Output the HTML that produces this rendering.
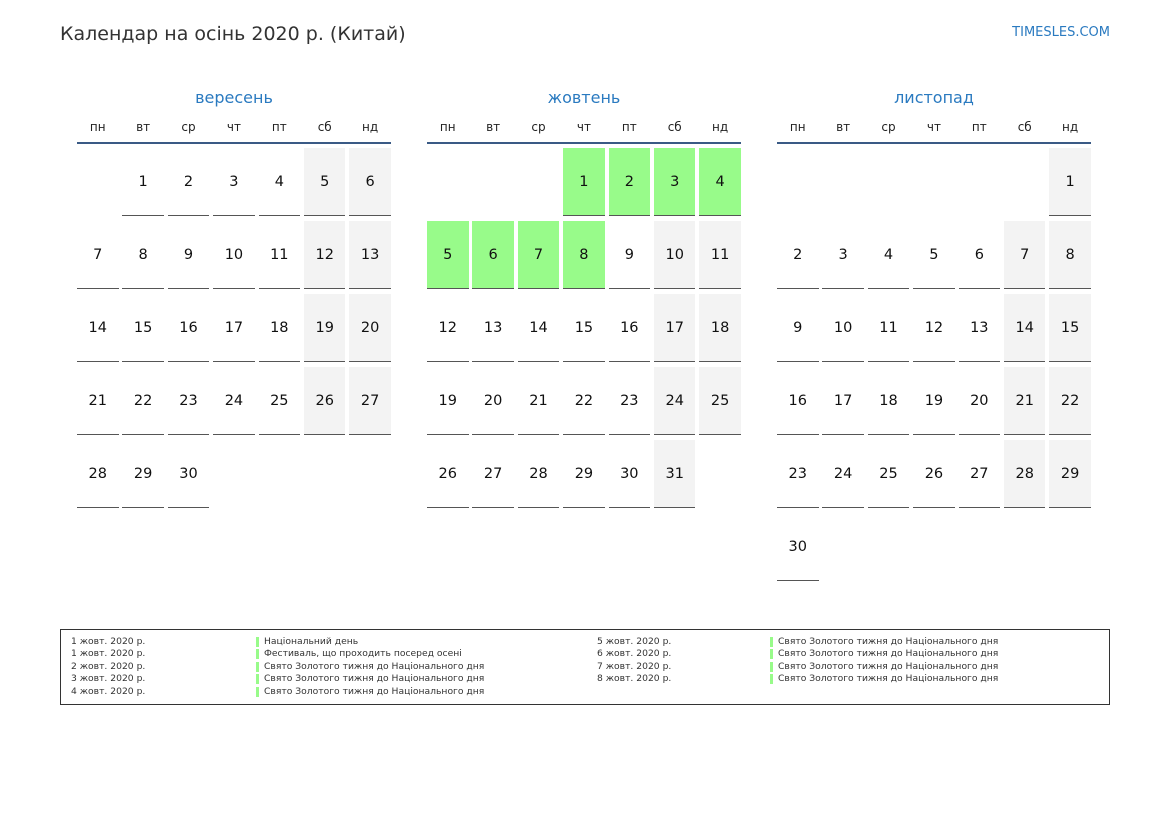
<!DOCTYPE html>
<html><head><meta charset="utf-8"><style>
body{margin:0;width:1169px;height:827px;background:#fff;font-family:"DejaVu Sans","Liberation Sans",sans-serif;position:relative;overflow:hidden}
.t{position:absolute;left:60px;top:23px;font-size:19px;color:#333}
.site{position:absolute;right:59px;top:25px;font-size:13px;color:#2a7ac0}
.m{position:absolute;top:88px;width:314px}
.mn{text-align:center;font-size:16px;color:#2a7ac0;height:24px}
.dh{display:grid;grid-template-columns:repeat(7,41.5px);column-gap:3.9px;font-size:12px;color:#222;text-align:center;margin-top:7px;height:23px;line-height:16px;border-bottom:2px solid #3a5a85}
.g{display:grid;grid-template-columns:repeat(7,41.5px);column-gap:3.9px;grid-auto-rows:68px;row-gap:5px;margin-top:4px}
.g div{font-size:14.5px;color:#111;text-align:center;line-height:68px;box-sizing:border-box}
.g .d{border-bottom:1.3px solid #555}
.g .w{background:#f3f3f3}
.g .h{background:#98fb8a}
.lg{position:absolute;left:60px;top:629px;width:1048px;height:74px;border:1.3px solid #333;font-size:9.2px;color:#333}
.lg>div{position:absolute;line-height:12.4px;top:6px}
.bar{position:relative;padding-left:8px}
.bar:before{content:"";position:absolute;left:0;top:1px;height:10px;border-left:3px solid #98fb8a}
</style></head><body>
<div class="t">Календар на осінь 2020 р. (Китай)</div>
<div class="site">TIMESLES.COM</div>

<div class="m" style="left:77px"><div class="mn">вересень</div>
<div class="dh"><span>пн</span><span>вт</span><span>ср</span><span>чт</span><span>пт</span><span>сб</span><span>нд</span></div>
<div class="g">
<div></div><div class="d">1</div><div class="d">2</div><div class="d">3</div><div class="d">4</div><div class="d w">5</div><div class="d w">6</div>
<div class="d">7</div><div class="d">8</div><div class="d">9</div><div class="d">10</div><div class="d">11</div><div class="d w">12</div><div class="d w">13</div>
<div class="d">14</div><div class="d">15</div><div class="d">16</div><div class="d">17</div><div class="d">18</div><div class="d w">19</div><div class="d w">20</div>
<div class="d">21</div><div class="d">22</div><div class="d">23</div><div class="d">24</div><div class="d">25</div><div class="d w">26</div><div class="d w">27</div>
<div class="d">28</div><div class="d">29</div><div class="d">30</div>
</div></div>

<div class="m" style="left:427px"><div class="mn">жовтень</div>
<div class="dh"><span>пн</span><span>вт</span><span>ср</span><span>чт</span><span>пт</span><span>сб</span><span>нд</span></div>
<div class="g">
<div></div><div></div><div></div><div class="d h">1</div><div class="d h">2</div><div class="d h">3</div><div class="d h">4</div>
<div class="d h">5</div><div class="d h">6</div><div class="d h">7</div><div class="d h">8</div><div class="d">9</div><div class="d w">10</div><div class="d w">11</div>
<div class="d">12</div><div class="d">13</div><div class="d">14</div><div class="d">15</div><div class="d">16</div><div class="d w">17</div><div class="d w">18</div>
<div class="d">19</div><div class="d">20</div><div class="d">21</div><div class="d">22</div><div class="d">23</div><div class="d w">24</div><div class="d w">25</div>
<div class="d">26</div><div class="d">27</div><div class="d">28</div><div class="d">29</div><div class="d">30</div><div class="d w">31</div>
</div></div>

<div class="m" style="left:777px"><div class="mn">листопад</div>
<div class="dh"><span>пн</span><span>вт</span><span>ср</span><span>чт</span><span>пт</span><span>сб</span><span>нд</span></div>
<div class="g">
<div></div><div></div><div></div><div></div><div></div><div></div><div class="d w">1</div>
<div class="d">2</div><div class="d">3</div><div class="d">4</div><div class="d">5</div><div class="d">6</div><div class="d w">7</div><div class="d w">8</div>
<div class="d">9</div><div class="d">10</div><div class="d">11</div><div class="d">12</div><div class="d">13</div><div class="d w">14</div><div class="d w">15</div>
<div class="d">16</div><div class="d">17</div><div class="d">18</div><div class="d">19</div><div class="d">20</div><div class="d w">21</div><div class="d w">22</div>
<div class="d">23</div><div class="d">24</div><div class="d">25</div><div class="d">26</div><div class="d">27</div><div class="d w">28</div><div class="d w">29</div>
<div class="d">30</div>
</div></div>

<div class="lg">
<div style="left:10px">1 жовт. 2020 р.<br>1 жовт. 2020 р.<br>2 жовт. 2020 р.<br>3 жовт. 2020 р.<br>4 жовт. 2020 р.</div>
<div style="left:195px"><div class="bar">Національний день</div><div class="bar">Фестиваль, що проходить посеред осені</div><div class="bar">Свято Золотого тижня до Національного дня</div><div class="bar">Свято Золотого тижня до Національного дня</div><div class="bar">Свято Золотого тижня до Національного дня</div></div>
<div style="left:536px">5 жовт. 2020 р.<br>6 жовт. 2020 р.<br>7 жовт. 2020 р.<br>8 жовт. 2020 р.</div>
<div style="left:709px"><div class="bar">Свято Золотого тижня до Національного дня</div><div class="bar">Свято Золотого тижня до Національного дня</div><div class="bar">Свято Золотого тижня до Національного дня</div><div class="bar">Свято Золотого тижня до Національного дня</div></div>
</div>
</body></html>
